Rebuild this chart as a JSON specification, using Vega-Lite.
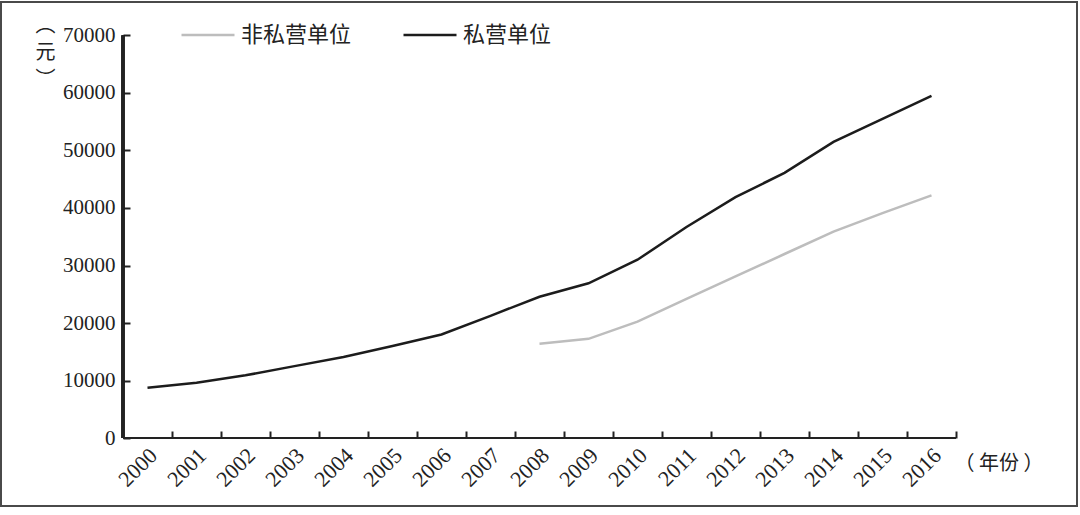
{
  "$schema": "https://vega.github.io/schema/vega-lite/v6.json",
  "width": 1076,
  "height": 504,
  "autosize": {"type": "none"},
  "padding": {"left": 1, "top": 2, "right": 3, "bottom": 9},
  "background": "white",
  "config": {
    "view": {"stroke": "#4a4a4a", "strokeWidth": 2},
    "font": "Liberation Serif"
  },
  "data": {
    "values": [
      {"year": "2000", "series": "私营单位", "value": 8750},
      {"year": "2001", "series": "私营单位", "value": 9620},
      {"year": "2002", "series": "私营单位", "value": 10900},
      {"year": "2003", "series": "私营单位", "value": 12500},
      {"year": "2004", "series": "私营单位", "value": 14100},
      {"year": "2005", "series": "私营单位", "value": 16000},
      {"year": "2006", "series": "私营单位", "value": 18000},
      {"year": "2007", "series": "私营单位", "value": 21250},
      {"year": "2008", "series": "私营单位", "value": 24570},
      {"year": "2009", "series": "私营单位", "value": 26900},
      {"year": "2010", "series": "私营单位", "value": 31000},
      {"year": "2011", "series": "私营单位", "value": 36700},
      {"year": "2012", "series": "私营单位", "value": 41900},
      {"year": "2013", "series": "私营单位", "value": 46100},
      {"year": "2014", "series": "私营单位", "value": 51500},
      {"year": "2015", "series": "私营单位", "value": 55500},
      {"year": "2016", "series": "私营单位", "value": 59500},
      {"year": "2008", "series": "非私营单位", "value": 16400},
      {"year": "2009", "series": "非私营单位", "value": 17250},
      {"year": "2010", "series": "非私营单位", "value": 20230},
      {"year": "2011", "series": "非私营单位", "value": 24200},
      {"year": "2012", "series": "非私营单位", "value": 28100},
      {"year": "2013", "series": "非私营单位", "value": 32000},
      {"year": "2014", "series": "非私营单位", "value": 35900},
      {"year": "2015", "series": "非私营单位", "value": 39100},
      {"year": "2016", "series": "非私营单位", "value": 42200}
    ]
  },
  "layer": [
    {
      "mark": {"type": "line", "strokeWidth": 2.5},
      "encoding": {
        "x": {
          "field": "year",
          "type": "ordinal",
          "scale": {"type": "band", "paddingInner": 0, "paddingOuter": 0, "range": [122, 955]},
          "axis": {
            "orient": "bottom",
            "offset": -68,
            "bandPosition": 1,
            "domain": false,
            "grid": false,
            "ticks": true,
            "tickSize": -7,
            "tickWidth": 2,
            "tickColor": "#222222",
            "labelAngle": -45,
            "labelAlign": "right",
            "labelBaseline": "middle",
            "labelPadding": 20.5,
            "labelOffset": 6,
            "labelFont": "Liberation Serif",
            "labelFontSize": 22,
            "labelColor": "#222222",
            "labelOverlap": false,
            "title": "（ 年份 ）",
            "titleFont": "Noto Sans CJK SC",
            "titleFontSize": 20,
            "titleFontWeight": "normal",
            "titleColor": "#222222",
            "titleX": 953,
            "titleY": 25,
            "titleAlign": "left",
            "titleBaseline": "middle",
            "titleAngle": 0
          }
        },
        "y": {
          "field": "value",
          "type": "quantitative",
          "scale": {"domain": [-11826, 75826], "nice": false, "zero": false},
          "axis": {
            "orient": "left",
            "offset": -122,
            "values": [0, 10000, 20000, 30000, 40000, 50000, 60000, 70000],
            "format": "d",
            "domain": false,
            "grid": false,
            "tickSize": -7,
            "tickWidth": 2,
            "tickColor": "#222222",
            "labelPadding": 15,
            "labelFont": "Liberation Serif",
            "labelFontSize": 21,
            "labelColor": "#222222",
            "title": ["︵", "元", "︶"],
            "titleAngle": 0,
            "titleX": -78,
            "titleY": 13,
            "titleAlign": "center",
            "titleBaseline": "top",
            "titleFont": "Noto Sans CJK SC",
            "titleFontSize": 20,
            "titleFontWeight": "normal",
            "titleColor": "#222222",
            "titleLineHeight": 27
          }
        },
        "color": {
          "field": "series",
          "type": "nominal",
          "scale": {"domain": ["非私营单位", "私营单位"], "range": ["#bdbdbd", "#1c1c1c"]},
          "legend": {
            "orient": "none",
            "legendX": 179,
            "legendY": 5,
            "direction": "horizontal",
            "title": null,
            "symbolType": "stroke",
            "symbolSize": 2809,
            "symbolStrokeWidth": 2.5,
            "labelFont": "Noto Sans CJK SC",
            "labelFontSize": 22,
            "labelColor": "#222222",
            "labelOffset": 5,
            "columnPadding": 46,
            "padding": 0,
            "labelLimit": 300
          }
        }
      }
    },
    {
      "mark": {"type": "rule", "color": "#222222", "strokeWidth": 2.2},
      "encoding": {
        "x": {"datum": "2000", "type": "ordinal", "bandPosition": 0},
        "y": {"datum": 0, "type": "quantitative"},
        "y2": {"datum": 70000}
      }
    },
    {
      "mark": {"type": "rule", "color": "#222222", "strokeWidth": 2.2},
      "encoding": {
        "x": {"datum": "2000", "type": "ordinal", "bandPosition": 0},
        "x2": {"datum": "2016", "bandPosition": 1},
        "y": {"datum": 0, "type": "quantitative"}
      }
    }
  ]
}
